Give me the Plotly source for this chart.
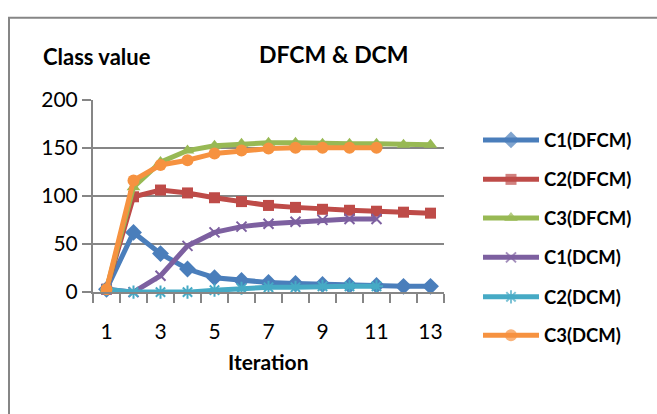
import plotly.graph_objects as go

# ---------------- data ----------------
iterations = list(range(1, 14))
c1_dfcm = [3, 62, 40, 24, 15, 12, 10, 9, 8, 7, 7, 6, 6]
c2_dfcm = [3, 99, 106, 103, 98, 94, 90, 88, 86, 85, 84, 83, 82]
c3_dfcm = [3, 109, 135, 147, 152, 154, 155, 155, 154, 154, 154, 153, 153]
c1_dcm = [3, 0, 17, 48, 62, 68, 71, 73, 75, 76, 76]
c2_dcm = [3, 0, 0, 0, 2, 4, 5, 5, 6, 6, 6]
c3_dcm = [3, 116, 132, 137, 144, 147, 149, 150, 150, 150, 150]

series_names = ["C1(DFCM)", "C2(DFCM)", "C3(DFCM)", "C1(DCM)", "C2(DCM)", "C3(DCM)"]
series_values = [c1_dfcm, c2_dfcm, c3_dfcm, c1_dcm, c2_dcm, c3_dcm]
x_tick_vals = [1, 3, 5, 7, 9, 11, 13]
y_tick_vals = [0, 50, 100, 150, 200]
title_text = "DFCM & DCM"
y_title = "Class value"
x_title = "Iteration"

# ---------------- style ----------------
W, H = 657, 414
PX0, PX1, PY0, PY1 = 93, 444, 91, 296
FONT = "Lato"
GRAY = "#868686"
colors = ["#4A7EBB", "#BE4B48", "#98B954", "#7D60A0", "#46AAC5", "#F69240"]
symbols = ["diamond", "square", "triangle-up", "x-thin-open", "asterisk-open", "circle"]
msizes = [13, 11, 12, 10, 11, 12]

fig = go.Figure()
for name, vals, col, sym, ms in zip(series_names, series_values, colors, symbols, msizes):
    open_sym = sym.endswith("open")
    fig.add_trace(go.Scatter(
        x=iterations[:len(vals)], y=vals, name=name, mode="lines+markers",
        line=dict(color=col, width=5),
        marker=dict(symbol=sym, size=ms, color=col,
                    line=dict(color=col, width=2 if open_sym else 0)),
        showlegend=False, cliponaxis=False,
    ))

# manual legend on a pixel-coordinate overlay axis
LX0, LX1, LTX = 483, 539, 542
LY = [134, 176, 217, 259, 301, 342]
for name, col, sym, ms, ly in zip(series_names, colors, symbols, msizes, LY):
    open_sym = sym.endswith("open")
    fig.add_trace(go.Scatter(
        x=[LX0, (LX0 + LX1) / 2, LX1], y=[ly, ly, ly], mode="lines+markers",
        line=dict(color=col, width=5),
        marker=dict(symbol=sym, size=[0, ms, 0], color=col,
                    line=dict(color=col, width=2 if open_sym else 0)),
        xaxis="x3", yaxis="y3", showlegend=False, hoverinfo="skip", cliponaxis=False,
    ))
    fig.add_annotation(x=LTX / W, y=1 - ly / H, xref="paper", yref="paper",
                       text="<b>%s</b>" % name, showarrow=False, xanchor="left",
                       yanchor="middle", font=dict(family=FONT, size=18.5, color="#000000"))

fig.update_layout(
    width=W, height=H, margin=dict(l=0, r=0, t=0, b=0),
    paper_bgcolor="white", plot_bgcolor="rgba(0,0,0,0)", showlegend=False,
    xaxis=dict(domain=[PX0 / W, PX1 / W], range=[0.5, 13.5],
               tickmode="array", tickvals=x_tick_vals, ticktext=[str(v) for v in x_tick_vals],
               ticks="", showgrid=False, zeroline=False, ticklabelstandoff=20,
               showline=True, linecolor=GRAY, linewidth=2,
               tickfont=dict(family=FONT, size=21, color="#000000"),
               minor=dict(ticks="outside", tickmode="linear", tick0=0.5, dtick=1,
                          ticklen=9, tickwidth=2, tickcolor=GRAY, showgrid=False)),
    yaxis=dict(domain=[1 - PY1 / H, 1 - PY0 / H], range=[0, 200],
               tickmode="array", tickvals=y_tick_vals,
               ticks="outside", ticklen=9, tickwidth=2, tickcolor=GRAY,
               showgrid=True, gridcolor=GRAY, gridwidth=2, zeroline=False,
               showline=True, linecolor=GRAY, linewidth=2,
               tickfont=dict(family=FONT, size=21, color="#000000")),
    xaxis3=dict(domain=[0, 1], range=[0, W], visible=False, anchor="y3"),
    yaxis3=dict(domain=[0, 1], range=[H, 0], visible=False, anchor="x3"),
)

fig.add_annotation(x=97 / W, y=1 - 45 / H, xref="paper", yref="paper",
                   text="<b>%s</b>" % y_title, showarrow=False, xanchor="center", yanchor="middle",
                   font=dict(family=FONT, size=22, color="#000000"))
fig.add_annotation(x=334 / W, y=1 - 43 / H, xref="paper", yref="paper",
                   text="<b>%s</b>" % title_text, showarrow=False, xanchor="center", yanchor="middle",
                   font=dict(family=FONT, size=23, color="#000000"))
fig.add_annotation(x=268 / W, y=1 - 370 / H, xref="paper", yref="paper",
                   text="<b>%s</b>" % x_title, showarrow=False, xanchor="center", yanchor="middle",
                   font=dict(family=FONT, size=21, color="#000000"))

# outer chart border (cut off at right and bottom like the reference)
fig.add_shape(type="rect", xref="paper", yref="paper",
              x0=9 / W, x1=1.2, y0=-0.2, y1=1 - 4 / H,
              line=dict(color=GRAY, width=2), layer="below")

fig.write_html("out.html")
